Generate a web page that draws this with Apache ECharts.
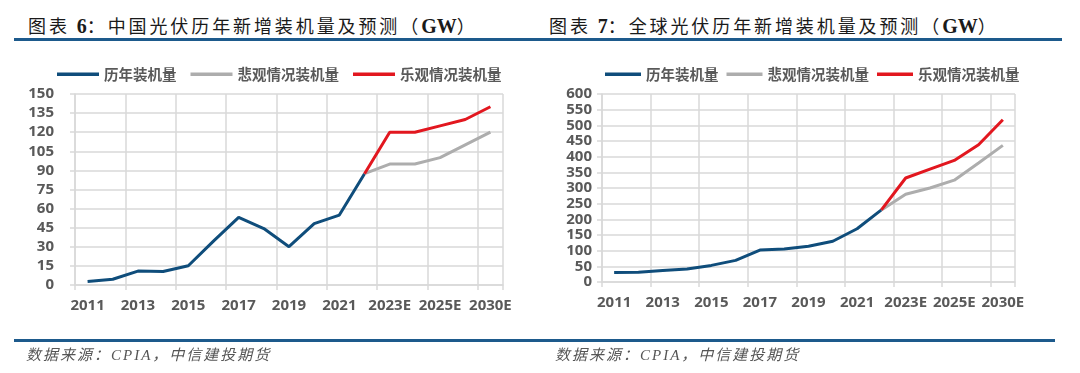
<!DOCTYPE html>
<html>
<head>
<meta charset="utf-8">
<script src="https://cdn.jsdelivr.net/npm/echarts@6/dist/echarts.min.js"></script>
<style>
  html, body { margin: 0; padding: 0; background: #fff; }
  #wrap { position: relative; width: 1080px; height: 373px; overflow: hidden; }
  #chart { position: absolute; left: 0; top: 0; width: 1080px; height: 373px; }
  .title { position: absolute; top: 13px; font-family: "Noto Sans CJK SC", sans-serif; font-size: 18px; line-height: 24px; color: #1a1a1a; letter-spacing: 2.9px; white-space: nowrap; }
  .title b { font-family: "Liberation Serif", serif; font-weight: bold; font-size: 20px; letter-spacing: 0; }
  .rule { position: absolute; height: 3px; background: #1d5a8c; }
  .foot { position: absolute; top: 345px; font-family: "Liberation Serif", "Noto Sans CJK SC", serif; font-style: italic; font-size: 15px; line-height: 20px; color: #555; white-space: nowrap; letter-spacing: 2px; }
</style>
</head>
<body>
<div id="wrap">
  <div class="title" style="left:28px">图表 <b>6</b>：中国光伏历年新增装机量及预测（<b>GW</b>）</div>
  <div class="title" style="left:549px">图表 <b>7</b>：全球光伏历年新增装机量及预测（<b>GW</b>）</div>
  <div class="rule" style="left:14px; top:38px; width:1048px"></div>
  <div id="chart"></div>
  <div class="rule" style="left:14px; top:339px; width:1041px"></div>
  <div class="foot" style="left:26px">数据来源：CPIA，中信建投期货</div>
  <div class="foot" style="left:555px">数据来源：CPIA，中信建投期货</div>
</div>
<script>
const categories = ['2011','2012','2013','2014','2015','2016','2017','2018','2019','2020','2021','2022','2023E','2024E','2025E','2026E','2030E'];
const seriesNames = ['历年装机量', '悲观情况装机量', '乐观情况装机量'];
// China (GW)
const chinaHistory = [2.7, 4.5, 10.9, 10.6, 15.1, 34.5, 53.1, 44.3, 30.1, 48.2, 54.9, 87.4, null, null, null, null, null];
const chinaPessimistic = [null, null, null, null, null, null, null, null, null, null, null, 87.4, 95, 95, 100, 110, 120];
const chinaOptimistic = [null, null, null, null, null, null, null, null, null, null, null, 87.4, 120, 120, 125, 130, 140];
// Global (GW)
const globalHistory = [30, 31, 37, 41.5, 53, 69, 102, 105, 114, 130, 170, 230, null, null, null, null, null];
const globalPessimistic = [null, null, null, null, null, null, null, null, null, null, null, 230, 280, 300, 325, 380, 436];
const globalOptimistic = [null, null, null, null, null, null, null, null, null, null, null, 230, 332, 360, 388, 438, 518];
const chinaAxis = { min: 0, max: 150, interval: 15 };
const globalAxis = { min: 0, max: 600, interval: 50 };

const colors = ['#0f4d7b', '#adadad', '#e2171f'];
const gridColor = '#d9d9d9';
const labelColor = '#595959';
const numFont = '"Open Sans", "Noto Sans CJK SC", sans-serif';

function xAxis(gi) {
  return {
    type: 'category', gridIndex: gi, data: categories, boundaryGap: true,
    axisLine: { show: true, lineStyle: { color: gridColor, width: 1.5 } },
    axisTick: { show: true, length: 5, lineStyle: { color: gridColor, width: 1.5 } },
    splitLine: { show: true, lineStyle: { color: gridColor, width: 1.5 } },
    axisLabel: { interval: 1, margin: 13, color: labelColor, fontFamily: numFont, fontWeight: 'bold', fontSize: 15 }
  };
}
function yAxis(gi, ax, margin) {
  return {
    type: 'value', gridIndex: gi, min: ax.min, max: ax.max, interval: ax.interval,
    axisLine: { show: true, lineStyle: { color: gridColor, width: 1.5 } },
    axisTick: { show: true, length: 5, lineStyle: { color: gridColor, width: 1.5 } },
    splitLine: { show: true, lineStyle: { color: gridColor, width: 1.5 } },
    axisLabel: { margin: margin, color: labelColor, fontFamily: numFont, fontWeight: 'bold', fontSize: 15 }
  };
}
function line(name, gi, data, color) {
  return {
    name: name, type: 'line', xAxisIndex: gi, yAxisIndex: gi, data: data,
    symbol: 'none', showSymbol: false, connectNulls: false,
    lineStyle: { color: color, width: 3 }, itemStyle: { color: color },
    emphasis: { disabled: true }, animation: false
  };
}
function legend(left, itemWidth, itemGap) {
  return {
    left: left, top: 67, padding: 0, itemWidth: itemWidth, itemHeight: 3.5, itemGap: itemGap, icon: 'rect',
    data: seriesNames,
    textStyle: { color: labelColor, fontWeight: 'bold', fontSize: 14.5, fontFamily: '"Noto Sans CJK SC", sans-serif' }
  };
}

const chart = echarts.init(document.getElementById('chart'), null, { renderer: 'canvas' });
chart.setOption({
  animation: false,
  color: colors,
  legend: [legend(57, 42, 14), legend(605, 36, 8)],
  grid: [
    { left: 75, top: 94, width: 428, height: 191 },
    { left: 602, top: 94, width: 413, height: 188 }
  ],
  xAxis: [xAxis(0), xAxis(1)],
  yAxis: [yAxis(0, chinaAxis, 21), yAxis(1, globalAxis, 10)],
  series: [
    line(seriesNames[0], 0, chinaHistory, colors[0]),
    line(seriesNames[1], 0, chinaPessimistic, colors[1]),
    line(seriesNames[2], 0, chinaOptimistic, colors[2]),
    line(seriesNames[0], 1, globalHistory, colors[0]),
    line(seriesNames[1], 1, globalPessimistic, colors[1]),
    line(seriesNames[2], 1, globalOptimistic, colors[2])
  ]
});
</script>
</body>
</html>
